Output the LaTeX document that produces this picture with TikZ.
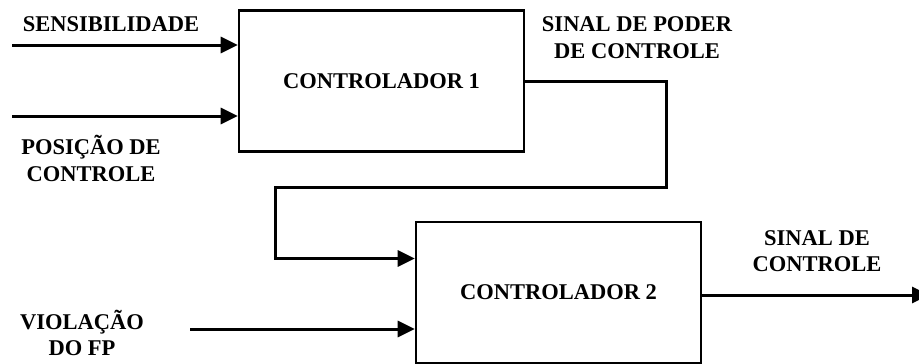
\documentclass[tikz,border=0pt]{standalone}
\usepackage{fontspec}
\setmainfont{Liberation Serif}
\usetikzlibrary{arrows.meta}
\begin{document}
\begin{tikzpicture}[x=1pt,y=-1pt,
  box/.style={draw,line width=2.6pt,minimum width=285pt,minimum height=141pt,inner sep=0pt},
  lbl/.style={align=center,inner sep=0pt,font=\fontsize{22.5}{26.5}\selectfont\bfseries},
  wire/.style={line width=3pt},
  arr/.style={wire,-{Triangle[length=17pt,width=16pt]}}]
\useasboundingbox (0,0) rectangle (919,364);
\node[box,lbl] (c1) at (381.5,81) {CONTROLADOR 1};
\node[box,lbl] (c2) at (558.5,292.5) {CONTROLADOR 2};
\coordinate (s1) at (12,45);
\coordinate (s2) at (12,116);
\coordinate (v1) at (190,329);
\coordinate (k1) at (666,187);
\coordinate (k2) at (275,187);
\coordinate (o1) at (929,295);
\draw[arr] (s1) -- (s1 -| c1.west);
\draw[arr] (s2) -- (s2 -| c1.west);
\draw[arr] (c1.east) -| (k1) -- (k2) |- ([yshift=34pt]c2.west);
\draw[arr] (v1) -- (v1 -| c2.west);
\draw[arr] (c2.east |- o1) -- (o1);
\node[lbl] (t1) at (111,24) {SENSIBILIDADE};
\node[lbl] (t2) at (91,158.5) {POSIÇÃO DE\\CONTROLE};
\node[lbl] (t3) at (637,37.5) {SINAL DE PODER\\DE CONTROLE};
\node[lbl] (t4) at (817,251) {SINAL DE\\CONTROLE};
\node[lbl] (t5) at (82,333) {VIOLAÇÃO\\DO FP};
\end{tikzpicture}
\end{document}
